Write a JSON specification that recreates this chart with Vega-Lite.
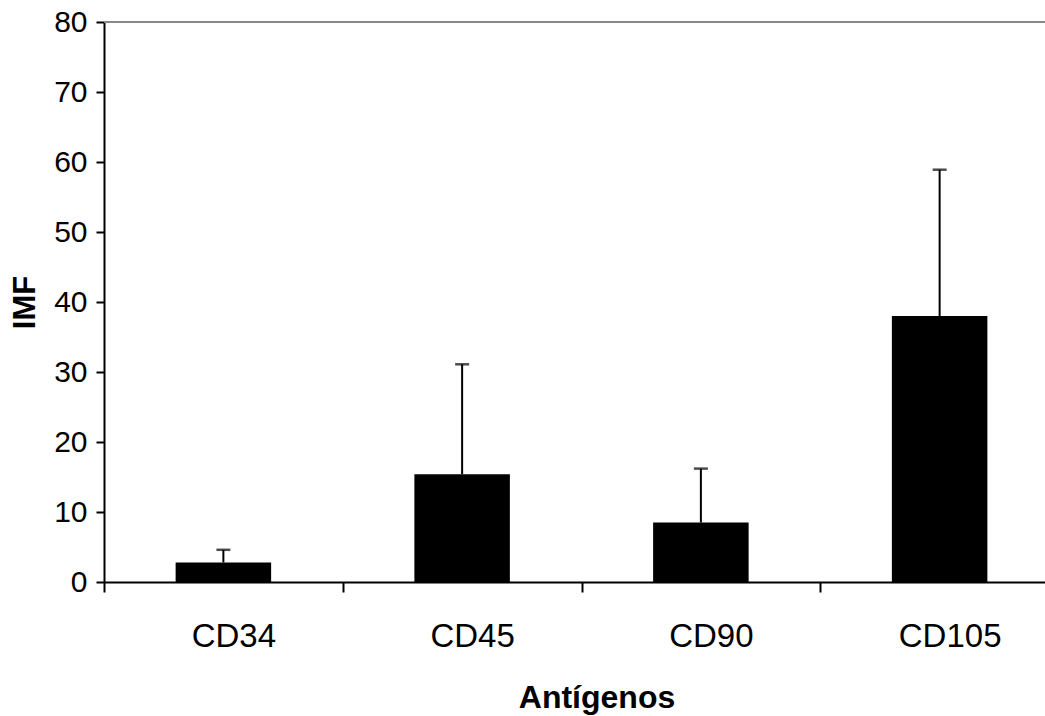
{
  "$schema": "https://vega.github.io/schema/vega-lite/v6.json",
  "width": 941,
  "height": 560,
  "autosize": {"type": "none"},
  "padding": {"left": 104, "top": 22, "right": 0, "bottom": 134},
  "background": "white",
  "config": {"view": {"stroke": null}, "font": "Liberation Sans"},
  "data": {"values": [
    {"antigen": "CD34", "imf": 2.8, "upper": 4.6},
    {"antigen": "CD45", "imf": 15.4, "upper": 31.1},
    {"antigen": "CD90", "imf": 8.5, "upper": 16.2},
    {"antigen": "CD105", "imf": 38.0, "upper": 58.9}
  ]},
  "layer": [
    {
      "mark": {"type": "bar", "width": {"band": 0.4}, "color": "black"},
      "encoding": {
        "x": {
          "field": "antigen", "type": "nominal",
          "sort": ["CD34", "CD45", "CD90", "CD105"],
          "scale": {"range": [0, 955], "paddingInner": 0, "paddingOuter": 0},
          "axis": {
            "domain": true, "domainColor": "black", "domainWidth": 2,
            "ticks": true, "tickBand": "extent", "tickSize": 10, "tickWidth": 2, "tickColor": "black",
            "labelFontSize": 33, "labelPadding": 28, "labelOffset": 10, "labelColor": "black", "labelAngle": 0,
            "title": "Antígenos", "titleFontSize": 32, "titleFontWeight": "bold", "titleColor": "black",
            "titleX": 492.5, "titleY": 125, "titleBaseline": "alphabetic", "titleAlign": "center"
          }
        },
        "y": {
          "field": "imf", "type": "quantitative",
          "scale": {"domain": [0, 80], "nice": false},
          "axis": {
            "values": [0, 10, 20, 30, 40, 50, 60, 70, 80],
            "grid": false,
            "domain": true, "domainColor": "black", "domainWidth": 2,
            "tickSize": 8, "tickWidth": 2, "tickColor": "black",
            "labelFontSize": 30, "labelPadding": 9, "labelColor": "black",
            "title": "IMF", "titleFontSize": 31, "titleFontWeight": "bold", "titleColor": "black",
            "titleX": -70, "titleBaseline": "alphabetic"
          }
        }
      }
    },
    {
      "mark": {"type": "rule", "color": "black", "strokeWidth": 2},
      "encoding": {
        "x": {"field": "antigen", "type": "nominal", "sort": ["CD34", "CD45", "CD90", "CD105"]},
        "y": {"field": "imf", "type": "quantitative", "title": "IMF"},
        "y2": {"field": "upper"}
      }
    },
    {
      "mark": {"type": "tick", "color": "black", "size": 14, "thickness": 2.5},
      "encoding": {
        "x": {"field": "antigen", "type": "nominal", "sort": ["CD34", "CD45", "CD90", "CD105"]},
        "y": {"field": "upper", "type": "quantitative", "title": "IMF"}
      }
    },
    {
      "mark": {"type": "rule", "color": "#888888", "strokeWidth": 2},
      "encoding": {
        "y": {"datum": 80}
      }
    }
  ]
}
